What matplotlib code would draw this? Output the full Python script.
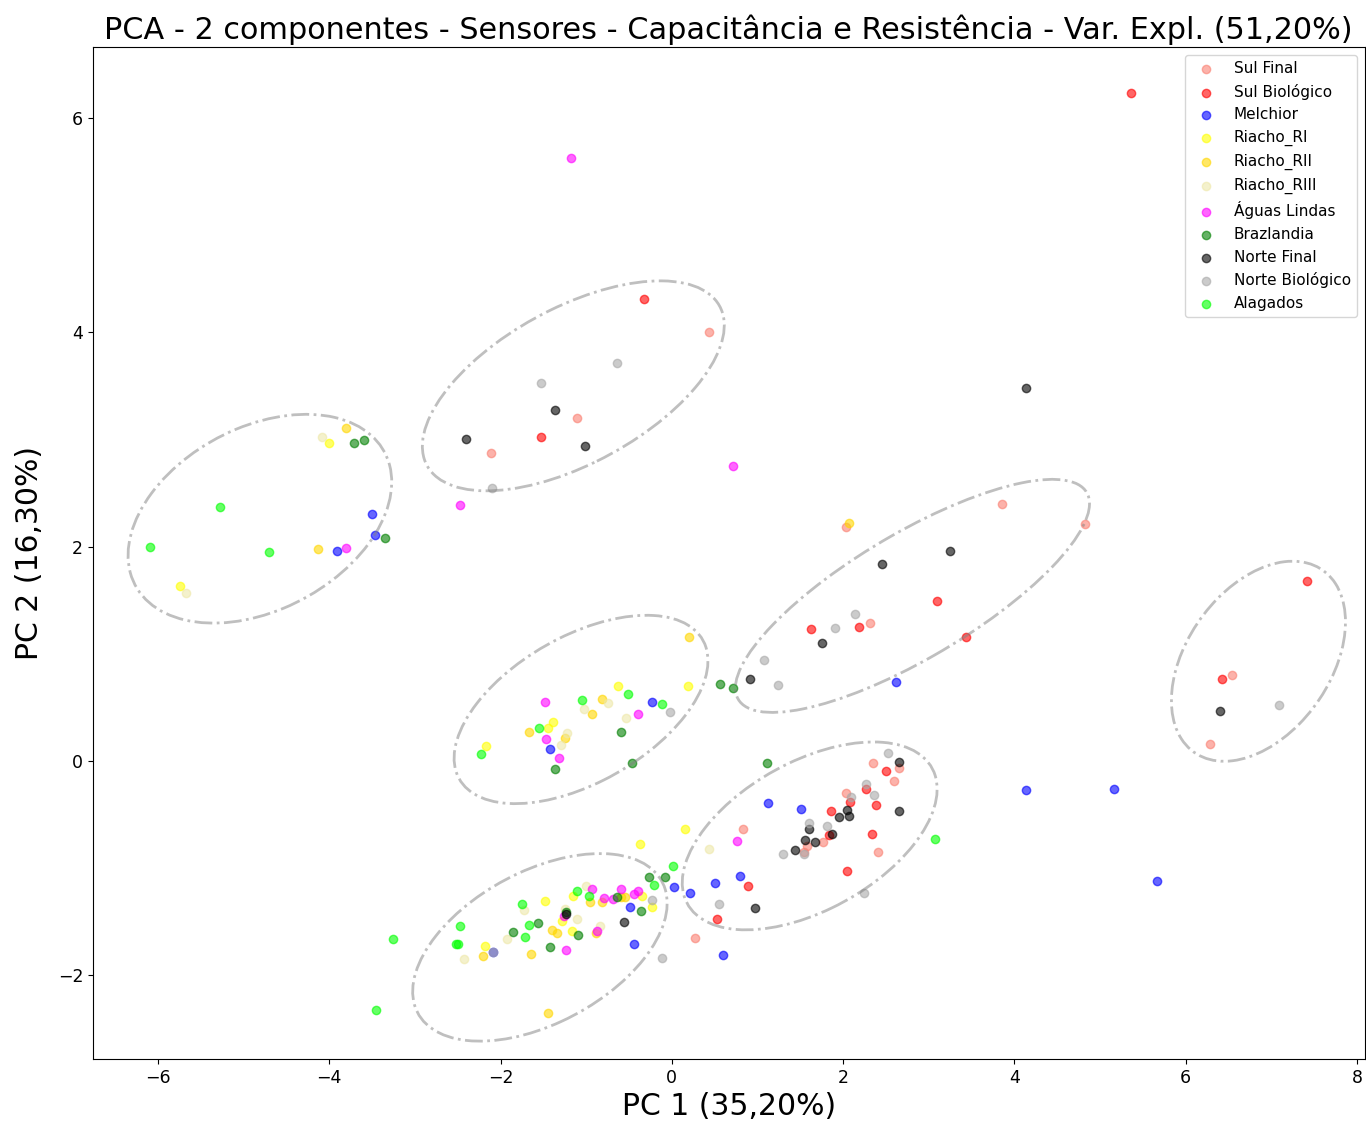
import matplotlib
matplotlib.use("Agg")
import matplotlib.pyplot as plt
import numpy as np
from matplotlib.patches import Ellipse

########################################################################################################################
# Data (PC1, PC2 scores per group)

sul_final_x = [0.43, -1.11, -2.11, 2.03, 3.85, 4.83, 2.32, 2.35, 2.65, 2.59, 2.03, 1.76, 1.58, 1.54, 2.41, 0.83, 0.27, 6.54, 6.28]
sul_final_y = [4.00, 3.20, 2.87, 2.18, 2.40, 2.21, 1.29, -0.02, -0.07, -0.19, -0.30, -0.76, -0.79, -0.85, -0.85, -0.64, -1.65, 0.80, 0.16]

sul_bio_x = [5.36, -0.32, -1.53, 3.10, 3.44, 2.18, 1.63, 2.50, 2.27, 2.39, 2.08, 1.86, 1.84, 2.34, 2.04, 0.89, 0.53, 7.42, 6.43]
sul_bio_y = [6.23, 4.31, 3.02, 1.49, 1.16, 1.25, 1.23, -0.09, -0.26, -0.41, -0.38, -0.47, -0.69, -0.68, -1.03, -1.17, -1.48, 1.68, 0.76]

melchior_x = [-3.91, -3.50, -3.47, 2.62, -0.23, -1.42, 1.12, 1.51, 0.02, 0.21, 0.50, 0.80, -0.49, -0.44, -2.09, 0.60, 4.14, 5.16, 5.67]
melchior_y = [1.96, 2.30, 2.11, 0.74, 0.55, 0.11, -0.39, -0.45, -1.18, -1.23, -1.14, -1.07, -1.36, -1.71, -1.78, -1.81, -0.27, -0.26, -1.12]

riacho_ri_x = [-5.74, -4.00, 0.19, -0.63, -1.39, -1.44, -2.17, 0.15, -0.37, -0.23, -0.35, -1.15, -1.48, -1.28, -1.17, -2.18]
riacho_ri_y = [1.63, 2.97, 0.70, 0.70, 0.36, 0.31, 0.14, -0.64, -0.78, -1.36, -1.26, -1.26, -1.31, -1.49, -1.59, -1.73]

riacho_rii_x = [-4.13, -3.81, 2.07, 0.20, -0.82, -0.93, -1.67, -1.25, -0.55, -0.59, -0.82, -0.95, -1.40, -1.34, -0.89, -1.64, -2.21, -1.44]
riacho_rii_y = [1.98, 3.11, 2.22, 1.16, 0.58, 0.44, 0.27, 0.21, -1.27, -1.27, -1.32, -1.32, -1.58, -1.61, -1.61, -1.80, -1.82, -2.35]

riacho_riii_x = [-5.67, -4.09, -0.53, -0.74, -1.02, -1.22, -1.29, 0.43, -1.00, -1.73, -1.25, -1.11, -0.84, -1.93, -2.43]
riacho_riii_y = [1.57, 3.02, 0.40, 0.54, 0.48, 0.26, 0.15, -0.82, -1.17, -1.39, -1.38, -1.48, -1.54, -1.66, -1.85]

aguas_x = [-1.18, -3.81, -2.47, 0.71, -0.39, -1.48, -1.47, -1.32, 0.76, -0.40, -0.44, -0.59, -0.69, -0.79, -0.93, -1.26, -0.87, -1.23]
aguas_y = [5.63, 1.99, 2.39, 2.75, 0.44, 0.55, 0.20, 0.03, -0.75, -1.21, -1.24, -1.20, -1.29, -1.28, -1.20, -1.45, -1.59, -1.76]

braz_x = [-3.71, -3.60, -3.35, 0.56, 0.72, -0.59, -0.46, -1.36, 1.11, -0.08, -0.27, -0.36, -0.64, -1.23, -1.56, -1.86, -1.10, -1.42]
braz_y = [2.97, 2.99, 2.08, 0.72, 0.68, 0.27, -0.02, -0.08, -0.02, -1.08, -1.08, -1.40, -1.27, -1.41, -1.51, -1.60, -1.62, -1.74]

norte_final_x = [4.13, -1.36, -2.40, -1.01, 2.45, 3.25, 1.75, 0.91, 2.65, 2.04, 1.95, 2.07, 2.65, 1.60, 1.87, 1.67, 1.55, 1.44, 0.97, -1.23, -0.56, 6.40]
norte_final_y = [3.48, 3.27, 3.00, 2.94, 1.84, 1.96, 1.10, 0.76, -0.01, -0.46, -0.52, -0.51, -0.47, -0.64, -0.68, -0.76, -0.74, -0.83, -1.37, -1.43, -1.50, 0.47]

norte_bio_x = [-0.64, -1.53, -2.10, 2.14, 1.91, 1.08, 1.24, -0.02, 2.53, 2.27, 2.36, 2.09, 1.60, 1.81, 1.54, 1.30, 2.25, 0.55, -0.23, -2.09, -0.11, 7.09]
norte_bio_y = [3.71, 3.53, 2.55, 1.37, 1.24, 0.94, 0.71, 0.46, 0.07, -0.22, -0.32, -0.34, -0.58, -0.61, -0.87, -0.87, -1.23, -1.34, -1.30, -1.78, -1.84, 0.52]

alagados_x = [-5.28, -6.09, -4.70, -0.51, -0.12, -1.05, -1.55, -2.23, 3.07, 0.01, -0.21, -0.97, -1.11, -1.75, -1.67, -1.72, -2.47, -2.52, -2.50, -3.25, -3.45]
alagados_y = [2.37, 2.00, 1.95, 0.62, 0.53, 0.57, 0.31, 0.06, -0.73, -0.98, -1.16, -1.26, -1.21, -1.34, -1.53, -1.64, -1.54, -1.71, -1.71, -1.66, -2.32]

labels = ["Sul Final", "Sul Biológico", "Melchior", "Riacho_RI", "Riacho_RII", "Riacho_RIII",
          "Águas Lindas", "Brazlandia", "Norte Final", "Norte Biológico", "Alagados"]
colors = ["salmon", "red", "blue", "yellow", "gold", "palegoldenrod",
          "magenta", "green", "black", "darkgray", "lime"]
xs = [sul_final_x, sul_bio_x, melchior_x, riacho_ri_x, riacho_rii_x, riacho_riii_x,
      aguas_x, braz_x, norte_final_x, norte_bio_x, alagados_x]
ys = [sul_final_y, sul_bio_y, melchior_y, riacho_ri_y, riacho_rii_y, riacho_riii_y,
      aguas_y, braz_y, norte_final_y, norte_bio_y, alagados_y]

# cluster ellipses: centre x, centre y, width, height, angle
ell_cx = [-4.81, -1.15, 2.81, -1.06, 1.61, -1.54, 6.85]
ell_cy = [2.26, 3.50, 1.54, 0.48, -0.70, -1.74, 0.93]
ell_w = [3.19, 3.74, 4.51, 3.14, 3.14, 3.12, 2.31]
ell_h = [1.76, 1.51, 1.22, 1.42, 1.44, 1.47, 1.51]
ell_ang = [18.3, 21.4, 24.5, 21.7, 21.0, 20.2, 38.9]

########################################################################################################################
# Plot

fig, ax = plt.subplots(figsize=(13.66, 11.24), dpi=100)
fig.subplots_adjust(left=0.068, right=0.999, top=0.958, bottom=0.058)

for x, y, c, lab in zip(xs, ys, colors, labels):
    ax.scatter(x, y, c=c, alpha=0.6, s=36, label=lab)

for cx, cy, w, h, a in zip(ell_cx, ell_cy, ell_w, ell_h, ell_ang):
    e = Ellipse((cx, cy), w, h, angle=a, fill=False, edgecolor="gray",
                alpha=0.5, linewidth=2, linestyle="-.")
    ax.add_patch(e)

ax.set_xlim(-6.76, 8.09)
ax.set_ylim(-2.78, 6.66)
ax.tick_params(labelsize=12.5)
ax.set_xlabel("PC 1 (35,20%)", fontsize=21.5)
ax.set_ylabel("PC 2 (16,30%)", fontsize=21.5, labelpad=10)
ax.set_title("PCA - 2 componentes - Sensores - Capacitância e Resistência - Var. Expl. (51,20%)", fontsize=21.8)
ax.legend(loc="upper right", fontsize=11)

fig.savefig("out.png")
